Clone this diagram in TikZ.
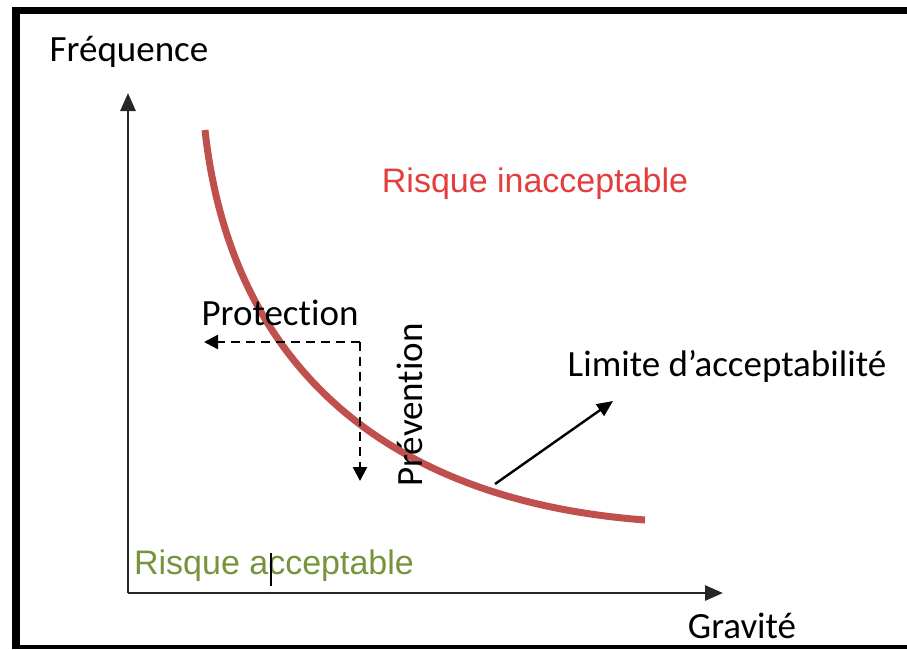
\documentclass[tikz,border=0pt]{standalone}
\usepackage{fontspec}
\setmainfont{Carlito}[Ligatures=NoCommon]
\newfontfamily\arialfont{Liberation Sans}
\usetikzlibrary{arrows.meta}
\definecolor{limRed}{RGB}{192,80,77}
\definecolor{inaccRed}{RGB}{226,62,62}
\definecolor{accGreen}{RGB}{119,147,60}

\begin{document}
\begin{tikzpicture}[
  x=1pt, y=-1pt,
  >=Triangle,
  lbl/.style={inner sep=0pt, font=\fontsize{37}{42}\selectfont},
  zone/.style={inner sep=0pt, font=\arialfont\fontsize{34}{40}\selectfont},
  axis/.style={black!85, line width=2.8pt, -{Triangle[length=18pt, width=15pt]}},
  action/.style={black, line width=2.6pt, dash pattern=on 9pt off 6pt,
    -{Triangle[length=14pt, width=14pt]}},
  limite/.style={limRed, line width=7pt},
]
  \useasboundingbox (0,0) rectangle (907,649);

  % cadre
  \fill[black] (12,7) rectangle (907,14);
  \fill[black] (12,7) rectangle (20,649);
  \fill[black] (12,645) rectangle (907,649);

  % axes
  \coordinate (O) at (128,593);
  \coordinate (ytip) at (128,93);
  \coordinate (xtip) at (723,593);
  \draw[axis] (O) -- (ytip);
  \draw[axis] (O) -- (xtip);

  \node[lbl] (freq) at (129,52) {Fréquence};
  \node[lbl] (grav) at (742,626) {Gravité};

  % courbe limite
  \coordinate (c0) at (205,130);
  \coordinate (c1) at (645,520);
  \draw[limite] (c0) .. controls (230,360) and (380,500) .. (c1);

  \node[zone, text=inaccRed] (inacc) at (535,184) {Risque inacceptable};
  \node[zone, text=accGreen] (acc) at (274,566) {Risque acceptable};
  \draw[black, line width=1.5pt] (271,553) -- (271,586);

  % protection / prevention
  \coordinate (corner) at (360,342);
  \coordinate (protTip) at (204,342);
  \coordinate (prevTip) at (360,481);
  \draw[action] (corner) -- (protTip);
  \draw[action] (corner) -- (prevTip);
  \node[lbl] (prot) at (280,313) {Protection};
  \node[lbl, rotate=90] (prev) at (410,405) {Prévention};

  % fleche limite
  \node[lbl] (lim) at (727,366) {Limite d’acceptabilité};
  \coordinate (limFrom) at (495,484);
  \coordinate (limTo) at (613,401);
  \draw[black, line width=2.4pt, -{Triangle[length=16pt, width=14pt]}] (limFrom) -- (limTo);

\end{tikzpicture}
\end{document}
